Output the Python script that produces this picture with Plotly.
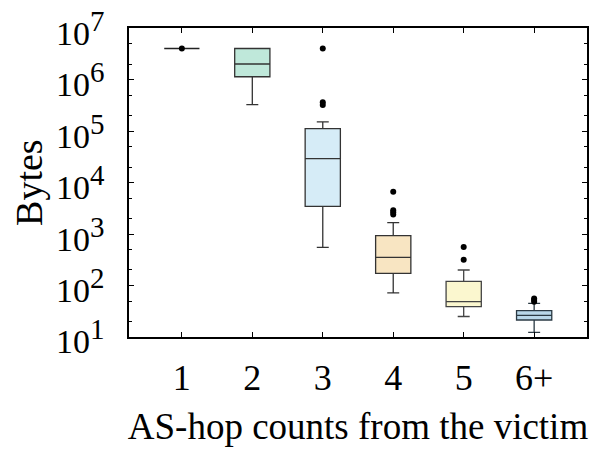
import math
import plotly.graph_objects as go

categories = ["1", "2", "3", "4", "5", "6+"]
lower_whisker = [4.0e6, 3.25e5, 550, 72, 25, 12.3]
q1_values = [4.0e6, 1.13e6, 3450, 172, 39, 21.4]
median_values = [4.0e6, 2.0e6, 2.9e4, 352, 48.5, 26.4]
q3_values = [4.0e6, 4.0e6, 1.11e5, 930, 120, 32.4]
upper_whisker = [4.0e6, 4.0e6, 1.5e5, 1660, 200, 45]
outlier_cats = ["1", "3", "3", "3", "4", "4", "4", "4", "5", "5", "6+", "6+", "6+"]
outlier_vals = [4.0e6, 4.0e6, 3.6e5, 3.2e5, 6600, 2900, 2650, 2400, 560, 316, 56, 52, 48.5]
y_tick_vals = [1e1, 1e2, 1e3, 1e4, 1e5, 1e6, 1e7]
y_tick_exps = ["1", "2", "3", "4", "5", "6", "7"]

fill_colors = ["#ffffff", "#bfe8da", "#d6ecf7", "#f8e5c2", "#fbf7cf", "#b9d8ea"]
line_colors = ["#222222", "#333333", "#333333", "#333333", "#444444", "#2b3a44"]

fig = go.Figure()
for i, c in enumerate(categories):
    fig.add_trace(go.Box(
        x=[c], q1=[q1_values[i]], median=[median_values[i]], q3=[q3_values[i]],
        lowerfence=[lower_whisker[i]], upperfence=[upper_whisker[i]],
        fillcolor=fill_colors[i], line=dict(color=line_colors[i], width=1.3),
        width=0.5, whiskerwidth=0.34, boxpoints=False, showlegend=False,
    ))

fig.add_trace(go.Scatter(
    x=outlier_cats, y=outlier_vals, mode="markers",
    marker=dict(color="black", size=6), showlegend=False,
))

font_family = "Liberation Serif"
plot_w = 460
annotations = []
for v, e in zip(y_tick_vals, y_tick_exps):
    annotations.append(dict(
        text="10<sup><span style='font-size:29px'>%s</span></sup>" % e,
        xref="paper", yref="y", x=-23 / plot_w, y=math.log10(v),
        xanchor="right", yanchor="middle", showarrow=False,
        font=dict(family=font_family, size=34, color="black"), borderpad=0,
    ))
annotations.append(dict(
    text="Bytes", xref="paper", yref="paper", x=-101 / plot_w, y=0.5,
    xanchor="center", yanchor="middle", textangle=-90, showarrow=False,
    font=dict(family=font_family, size=38, color="black"), borderpad=0,
))

fig.update_layout(
    width=590, height=450,
    margin=dict(l=129, r=1, t=28, b=113),
    plot_bgcolor="white", paper_bgcolor="white",
    font=dict(family=font_family, color="black", size=33),
    annotations=annotations,
)
fig.update_xaxes(
    type="category", categoryorder="array", categoryarray=categories,
    range=[-0.75, 5.75],
    showline=True, linecolor="black", linewidth=1.5, mirror="allticks",
    ticks="inside", ticklen=5, tickcolor="black", tickwidth=1,
    showgrid=False, zeroline=False,
    tickfont=dict(size=36), ticklabelstandoff=8,
    title=dict(text="AS-hop counts from the victim", font=dict(size=37), standoff=16),
)
fig.update_yaxes(
    type="log", range=[0.9999, 7.0001], tickmode="array", tickvals=y_tick_vals,
    showticklabels=False,
    showline=True, linecolor="black", linewidth=1.5, mirror="allticks",
    ticks="inside", ticklen=5, tickcolor="black", tickwidth=1,
    minor=dict(ticks="inside", ticklen=3, tickcolor="black", showgrid=False),
    showgrid=False, zeroline=False,
)

fig.write_html("out.html")
